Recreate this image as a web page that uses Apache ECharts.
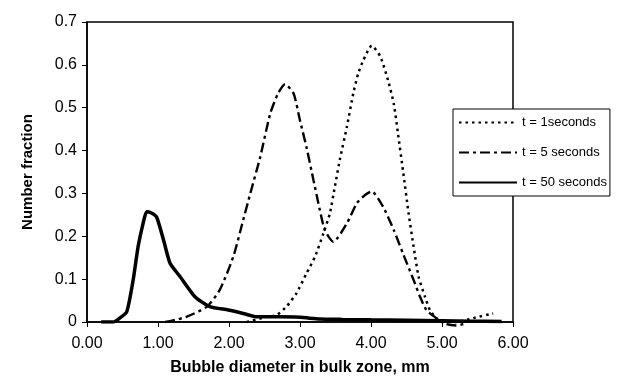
<!DOCTYPE html>
<html>
<head>
<meta charset="utf-8">
<script src="https://cdn.jsdelivr.net/npm/echarts@6/dist/echarts.min.js"></script>
<style>
  html, body { margin: 0; padding: 0; background: #fff; }
  #chart { width: 618px; height: 376px; }
</style>
</head>
<body>
<div id="chart"></div>
<script>
// values
const seriesNames = ['t = 1seconds', 't = 5 seconds', 't = 50 seconds'];

const t1X = [2.25, 2.53, 2.67, 2.81, 2.95, 3.09, 3.21, 3.33, 3.42, 3.49, 3.56, 3.66, 3.75, 3.82, 3.89, 4.01, 4.13, 4.24, 4.32, 4.38, 4.45, 4.53, 4.6, 4.67, 4.76, 4.83, 4.92, 5.0, 5.2, 5.44, 5.72];
const t1Y = [0, 0.012, 0.016, 0.036, 0.067, 0.113, 0.152, 0.207, 0.253, 0.315, 0.378, 0.455, 0.533, 0.58, 0.61, 0.645, 0.62, 0.564, 0.51, 0.44, 0.354, 0.253, 0.176, 0.106, 0.059, 0.028, 0.009, 0, 0, 0.009, 0.02];

const t5X = [1.1, 1.17, 1.4, 1.69, 1.87, 2.06, 2.2, 2.3, 2.44, 2.58, 2.69, 2.79, 2.91, 3.0, 3.09, 3.19, 3.28, 3.35, 3.47, 3.66, 3.8, 3.92, 4.01, 4.17, 4.32, 4.45, 4.6, 4.69, 4.78, 4.92, 5.06, 5.2, 5.3];
const t5Y = [0, 0.002, 0.012, 0.036, 0.075, 0.152, 0.238, 0.3, 0.385, 0.486, 0.533, 0.555, 0.533, 0.47, 0.409, 0.331, 0.261, 0.214, 0.187, 0.23, 0.277, 0.297, 0.305, 0.269, 0.215, 0.16, 0.098, 0.059, 0.028, 0.009, -0.005, -0.008, -0.005];

const t50X = [0.2, 0.37, 0.46, 0.56, 0.65, 0.72, 0.79, 0.84, 0.9, 0.98, 1.08, 1.17, 1.31, 1.52, 1.73, 1.99, 2.2, 2.39, 2.7, 3.0, 3.28, 3.6, 4.0, 4.5, 5.0, 5.4, 5.84];
const t50Y = [0, 0, 0.009, 0.024, 0.098, 0.176, 0.23, 0.257, 0.255, 0.245, 0.19, 0.137, 0.106, 0.059, 0.036, 0.028, 0.02, 0.012, 0.012, 0.011, 0.007, 0.006, 0.005, 0.004, 0.003, 0.002, 0.001];

const pairs = (xs, ys) => xs.map((x, i) => [x, ys[i]]);

const font = 'Liberation Sans';
const chart = echarts.init(document.getElementById('chart'));

chart.setOption({
  backgroundColor: '#fff',
  animation: false,
  color: ['#000', '#000', '#000'],
  textStyle: { fontFamily: font, color: '#000' },
  grid: {
    left: 87, right: 105, top: 22, bottom: 54,
    containLabel: false,
    outerBoundsMode: 'none',
    show: true,
    borderColor: '#000',
    borderWidth: 1.5,
  },
  legend: {
    orient: 'vertical',
    left: 453,
    top: 109,
    padding: [7, 3, 7, 5],
    itemGap: 17,
    itemWidth: 58,
    itemHeight: 14,
    backgroundColor: '#fff',
    borderColor: '#000',
    borderWidth: 1,
    itemStyle: { opacity: 0 },
    textStyle: { fontSize: 13, color: '#000', fontFamily: font },
    data: seriesNames,
  },
  xAxis: {
    type: 'value',
    min: 0,
    max: 6,
    interval: 1,
    name: 'Bubble diameter in bulk zone, mm',
    nameLocation: 'middle',
    nameGap: 38,
    nameTextStyle: { fontSize: 16, fontWeight: 'bold', color: '#000' },
    axisLine: { lineStyle: { color: '#000', width: 1.5 } },
    axisTick: { show: true, length: 5, lineStyle: { color: '#000' } },
    axisLabel: {
      fontSize: 16, color: '#000', margin: 14,
      formatter: (v) => v.toFixed(2),
    },
    splitLine: { show: false },
  },
  yAxis: {
    type: 'value',
    min: 0,
    max: 0.7,
    interval: 0.1,
    name: 'Number fraction',
    nameLocation: 'middle',
    nameGap: 52,
    nameTextStyle: { fontSize: 15, fontWeight: 'bold', color: '#000' },
    axisLine: { show: true, lineStyle: { color: '#000', width: 1.5 } },
    axisTick: { show: true, length: 5, lineStyle: { color: '#000' } },
    axisLabel: { fontSize: 16, color: '#000', margin: 10 },
    splitLine: { show: false },
  },
  series: [
    {
      name: seriesNames[0],
      type: 'line',
      data: pairs(t1X, t1Y),
      symbol: 'none',
      smooth: 0.2,
      itemStyle: { color: '#000' },
      lineStyle: { color: '#000', width: 2.5, type: [2.5, 4] },
      clip: false,
    },
    {
      name: seriesNames[1],
      type: 'line',
      data: pairs(t5X, t5Y),
      symbol: 'none',
      smooth: 0.2,
      itemStyle: { color: '#000' },
      lineStyle: { color: '#000', width: 2.4, type: [10, 4, 3, 4] },
      clip: false,
    },
    {
      name: seriesNames[2],
      type: 'line',
      data: pairs(t50X, t50Y),
      symbol: 'none',
      smooth: 0.2,
      itemStyle: { color: '#000' },
      lineStyle: { color: '#000', width: 3.5 },
    },
  ],
});
</script>
</body>
</html>
